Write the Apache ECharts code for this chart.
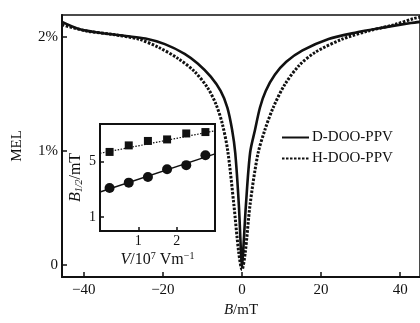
<!DOCTYPE html>
<html><head><meta charset="utf-8">
<script src="https://cdn.jsdelivr.net/npm/echarts@6/dist/echarts.min.js"></script>
<style>html,body{margin:0;padding:0;background:#fff}#c{width:420px;height:323px}</style>
</head><body><div id="c"></div>
<script>
// Main panel: MEL (%) vs B (mT)
const seriesNames = ['D-DOO-PPV', 'H-DOO-PPV'];
const dData = [[-45.5,2.13],[-41,2.065],[-36,2.035],[-29.4,2.006],[-24.4,1.984],[-19.5,1.935],[-14.5,1.85],[-11.2,1.765],[-7.9,1.65],[-5.4,1.525],[-3.7,1.38],[-2.5,1.185],[-1.7,0.98],[-0.8,0.53],[-0.3,0.15],[0,-0.02],[0.35,0.15],[1.0,0.53],[2.06,0.986],[3.3,1.185],[4.55,1.38],[6.0,1.525],[8.3,1.666],[11.2,1.78],[15.3,1.88],[21.9,1.98],[28.6,2.035],[35.2,2.077],[42.7,2.12],[45,2.13]];
const hData = [[-45.5,2.105],[-39.3,2.05],[-32.7,2.02],[-26.1,1.978],[-21.1,1.907],[-16.1,1.808],[-12,1.695],[-8.7,1.553],[-6.6,1.411],[-5.0,1.241],[-3.6,1.0],[-2.07,0.534],[-0.82,0.11],[0,-0.04],[0.82,0.11],[2.06,0.534],[4.0,0.97],[5.8,1.185],[7.9,1.38],[10.8,1.58],[14.5,1.75],[18.6,1.865],[25.3,1.978],[31.9,2.05],[38.5,2.105],[43.5,2.16],[45,2.17]];
const mainXTicks = [-40, -20, 0, 20, 40];
const mainYTicks = [0, 1, 2];
// Inset: B1/2 (mT) vs V (10^7 V/m)
const insetV = [0.25, 0.75, 1.25, 1.75, 2.25, 2.75];
const insetH = [5.69, 6.16, 6.48, 6.59, 7.02, 7.12];
const insetD = [3.09, 3.48, 3.88, 4.45, 4.74, 5.45];
const fitH = [[0, 5.59], [3, 7.21]];
const fitD = [[0, 2.81], [3, 5.55]];
const insetXTicks = [1, 2];
const insetYTicks = [1, 5];

const F = 'Liberation Serif';
const C = '#111';
const chart = echarts.init(document.getElementById('c'));
chart.setOption({
  animation: false,
  backgroundColor: '#fff',
  textStyle: {fontFamily: F, color: C},
  legend: {
    data: seriesNames, orient: 'vertical', left: 276, top: 125,
    itemWidth: 27, itemHeight: 14, itemGap: 6,
    itemStyle: {opacity: 0},
    textStyle: {fontFamily: F, fontSize: 15, color: C, padding: [0,0,0,-2]}
  },
  grid: [
    {left: 62, top: 15, width: 364, height: 270, show: true, borderColor: C, borderWidth: 1.5, backgroundColor: 'transparent'},
    {left: 100, top: 124, width: 115, height: 107, show: true, borderColor: C, borderWidth: 2, backgroundColor: '#fff', z: 10}
  ],
  xAxis: [
    {type: 'value', gridIndex: 0, min: -45.5, max: 45,
     axisLine: {show: true, onZero: false, lineStyle: {color: C, width: 2}},
     axisTick: {inside: true, length: 5, lineStyle: {color: C, width: 1.5}, customValues: mainXTicks},
     axisLabel: {customValues: mainXTicks, fontSize: 15, fontFamily: F, color: C, margin: 6,
       formatter: v => v < 0 ? '\u2212' + (-v) : String(v)},
     splitLine: {show: false},
     name: '{i|B}/mT', nameLocation: 'middle', nameGap: 26,
     nameTextStyle: {fontSize: 15, fontFamily: F, color: C, rich: {i: {fontStyle: 'italic', fontSize: 15, fontFamily: F}}}
    },
    {type: 'value', gridIndex: 1, min: 0, max: 3,
     axisLine: {show: true, onZero: false, lineStyle: {color: C, width: 2}},
     axisTick: {inside: true, length: 4, lineStyle: {color: C, width: 1.5}, customValues: insetXTicks},
     axisLabel: {customValues: insetXTicks, fontSize: 14, fontFamily: F, color: C, margin: 3},
     splitLine: {show: false},
     name: '{i|V}/10{s|7} Vm{s|\u22121}', nameLocation: 'middle', nameGap: 20, z: 10,
     nameTextStyle: {fontSize: 16, fontFamily: F, color: C,
       rich: {i: {fontStyle: 'italic', fontSize: 16, fontFamily: F}, s: {fontSize: 10, fontFamily: F, verticalAlign: 'top', padding: [0,0,8,0]}}}
    }
  ],
  yAxis: [
    {type: 'value', gridIndex: 0, min: -0.104, max: 2.19,
     axisLine: {show: true, onZero: false, lineStyle: {color: C, width: 2}},
     axisTick: {inside: true, length: 5, lineStyle: {color: C, width: 1.5}, customValues: mainYTicks},
     axisLabel: {customValues: mainYTicks, fontSize: 15, fontFamily: F, color: C, margin: 4,
       formatter: v => v === 0 ? '0' : v + '%'},
     splitLine: {show: false},
     name: 'MEL', nameLocation: 'middle', nameGap: 37, nameRotate: 90,
     nameTextStyle: {fontSize: 15, fontFamily: F, color: C}
    },
    {type: 'value', gridIndex: 1, min: 0, max: 7.7,
     axisLine: {show: true, onZero: false, lineStyle: {color: C, width: 2}},
     axisTick: {inside: true, length: 4, lineStyle: {color: C, width: 1.5}, customValues: insetYTicks},
     axisLabel: {customValues: insetYTicks, fontSize: 14, fontFamily: F, color: C, margin: 4},
     splitLine: {show: false},
     name: '{i|B}{s|1/2}/mT', nameLocation: 'middle', nameGap: 16, nameRotate: 90, z: 10,
     nameTextStyle: {fontSize: 16, fontFamily: F, color: C,
       rich: {i: {fontStyle: 'italic', fontSize: 16, fontFamily: F}, s: {fontStyle: 'italic', fontSize: 10, fontFamily: F, verticalAlign: 'bottom', padding: [7,0,0,0]}}}
    }
  ],
  series: [
    {name: seriesNames[0], type: 'line', xAxisIndex: 0, yAxisIndex: 0, data: dData, smooth: 0.3,
     symbol: 'none', lineStyle: {color: C, width: 2.6, type: 'solid'}, itemStyle: {color: C}, z: 2},
    {name: seriesNames[1], type: 'line', xAxisIndex: 0, yAxisIndex: 0, data: hData, smooth: 0.3,
     symbol: 'none', lineStyle: {color: C, width: 3, type: [2.5, 1.5]}, itemStyle: {color: C}, z: 2},
    {type: 'line', xAxisIndex: 1, yAxisIndex: 1, data: fitH, symbol: 'none', z: 11,
     lineStyle: {color: C, width: 1.2, type: [1.5, 1.5]}},
    {type: 'line', xAxisIndex: 1, yAxisIndex: 1, data: fitD, symbol: 'none', z: 11,
     lineStyle: {color: C, width: 1.5}},
    {type: 'scatter', xAxisIndex: 1, yAxisIndex: 1, data: insetV.map((v, i) => [v, insetH[i]]), z: 12,
     symbol: 'rect', symbolSize: 8, itemStyle: {color: C, opacity: 1}},
    {type: 'scatter', xAxisIndex: 1, yAxisIndex: 1, data: insetV.map((v, i) => [v, insetD[i]]), z: 12,
     symbol: 'circle', symbolSize: 10, itemStyle: {color: C, opacity: 1}}
  ]
});
</script></body></html>
